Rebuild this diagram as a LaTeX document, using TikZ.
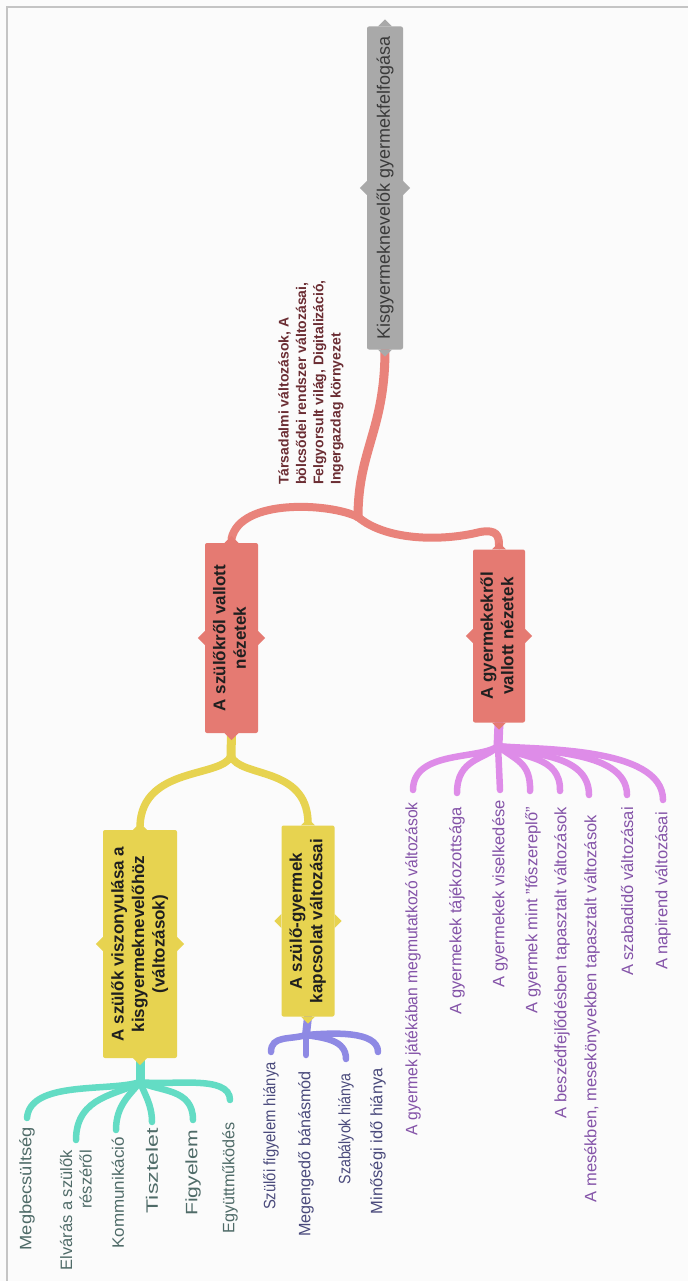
\documentclass[tikz,border=0pt]{standalone}
\usepackage{fontspec}
\usepackage{graphicx}
\setmainfont{Liberation Sans}
\usetikzlibrary{calc,backgrounds}
\definecolor{bgc}{HTML}{FBFBFB}
\definecolor{framec}{HTML}{C4C4C4}
\definecolor{rootc}{HTML}{A9A9A9}
\definecolor{roottext}{HTML}{3A3A3A}
\definecolor{redc}{HTML}{E57A72}
\definecolor{redl}{HTML}{E9837B}
\definecolor{yelc}{HTML}{E7D350}
\definecolor{cyac}{HTML}{63DCC4}
\definecolor{lavc}{HTML}{8E89E4}
\definecolor{purc}{HTML}{DE8CE8}
\definecolor{labc}{HTML}{6B2D33}
\definecolor{purtext}{HTML}{8453A8}
\definecolor{cyatext}{HTML}{4F6B68}
\definecolor{lavtext}{HTML}{4A4A7C}
\newcommand\sx[2]{\scalebox{#1}[1]{#2}}
\newcommand\mynotches[2]{%
  \fill[#2] ([xshift=-7pt]#1.north) -- ([yshift=7pt]#1.north) -- ([xshift=7pt]#1.north) -- cycle;
  \fill[#2] ([xshift=-7pt]#1.south) -- ([yshift=-7pt]#1.south) -- ([xshift=7pt]#1.south) -- cycle;
  \fill[#2] ([yshift=-7pt]#1.west) -- ([xshift=-7pt]#1.west) -- ([yshift=7pt]#1.west) -- cycle;
  \fill[#2] ([yshift=-7pt]#1.east) -- ([xshift=7pt]#1.east) -- ([yshift=7pt]#1.east) -- cycle;}
\begin{document}
\begin{tikzpicture}[x=1pt,y=-1pt,
  box/.style={rectangle, rounded corners=2pt, inner sep=0pt, draw=none},
  boxfont/.style={font=\fontsize{17}{20.5}\selectfont\bfseries, text=black!88},
  leaf/.style={rotate=90, anchor=east, inner sep=0pt, font=\fontsize{16.5}{19.5}\selectfont},
  conn/.style={line width=6.5pt, line cap=round},
  redline/.style={conn, draw=redl, line width=9pt},
  yline/.style={conn, draw=yelc, line width=7.5pt},
  cline/.style={conn, draw=cyac},
  pline/.style={conn, draw=purc},
  vline/.style={conn, draw=lavc}]
\useasboundingbox (0,0) rectangle (688,1281);
% nodes
\node[box, fill=rootc, minimum width=36pt, minimum height=323pt, text=roottext, font=\fontsize{18}{21}\selectfont] (root) at (385,188) {\rotatebox{90}{Kisgyermeknevelők gyermekfelfogása}};
\node[box, boxfont, fill=redc, minimum width=53pt, minimum height=190pt] (szul) at (231.5,638) {\rotatebox{90}{\begin{tabular}{@{}c@{}}A szülőkről vallott\\nézetek\end{tabular}}};
\node[box, boxfont, fill=redc, minimum width=52pt, minimum height=173pt] (gyer) at (499,636) {\rotatebox{90}{\begin{tabular}{@{}c@{}}A gyermekekről\\vallott nézetek\end{tabular}}};
\node[box, boxfont, fill=yelc, minimum width=74pt, minimum height=228pt] (visz) at (140,944) {\rotatebox{90}{\begin{tabular}{@{}c@{}}A szülők viszonyulása a\\kisgyermeknevelőhöz\\(változások)\end{tabular}}};
\node[box, boxfont, fill=yelc, minimum width=53pt, minimum height=191pt] (kapcs) at (308,921) {\rotatebox{90}{\begin{tabular}{@{}c@{}}A szülő-gyermek\\kapcsolat változásai\end{tabular}}};
% label
\node[rotate=90, anchor=west, inner sep=0pt, align=left, text=labc, font=\fontsize{14}{17.3}\selectfont\bfseries] (lab) at (311,485) {Társadalmi változások, A\\bölcsődei rendszer változásai,\\Felgyorsult világ, Digitalizáció,\\Ingergazdag környezet};
% cyan leaves
\node[leaf, text=cyatext] (c1) at (27,1127) {\sx{1.11}{Megbecsültség}};
\node[leaf, text=cyatext, align=right] (c2) at (76,1150) {Elvárás a szülők\\részéről};
\node[leaf, text=cyatext] (c3) at (118,1137) {\sx{1.03}{Kommunikáció}};
\node[leaf, text=cyatext] (c4) at (152,1128) {\sx{1.4}{Tisztelet}};
\node[leaf, text=cyatext] (c5) at (193,1130) {\sx{1.28}{Figyelem}};
\node[leaf, text=cyatext] (c6) at (230,1122) {\sx{0.98}{Együttműködés}};
% lavender leaves
\node[leaf, text=lavtext] (v1) at (271,1062) {\sx{0.9}{Szülői figyelem hiánya}};
\node[leaf, text=lavtext] (v2) at (306,1071) {\sx{0.98}{Megengedő bánásmód}};
\node[leaf, text=lavtext] (v3) at (346,1073) {\sx{0.86}{Szabályok hiánya}};
\node[leaf, text=lavtext] (v4) at (378,1068) {Minőségi idő hiánya};
% purple leaves
\node[leaf, text=purtext] (p1) at (413,802) {\sx{0.95}{A gyermek játékában megmutatkozó változások}};
\node[leaf, text=purtext] (p2) at (457,807) {A gyermekek tájékozottsága};
\node[leaf, text=purtext] (p3) at (500,800) {A gyermekek viselkedése};
\node[leaf, text=purtext] (p4) at (533,807) {A gyermek mint "főszereplő"};
\node[leaf, text=purtext] (p5) at (562,807) {A beszédfejlődésben tapasztalt változások};
\node[leaf, text=purtext] (p6) at (592,815) {A mesékben, mesekönyvekben tapasztalt változások};
\node[leaf, text=purtext] (p7) at (627,807) {A szabadidő változásai};
\node[leaf, text=purtext] (p8) at (663,812) {A napirend változásai};
% notches
\mynotches{root}{rootc}
\mynotches{szul}{redc}
\mynotches{gyer}{redc}
\mynotches{visz}{yelc}
\mynotches{kapcs}{yelc}
\begin{scope}[on background layer]
\fill[bgc] (0,0) rectangle (688,1281);
\draw[framec, line width=1.3pt] (7,1281) -- (7,7) -- (688,7);
% red
\coordinate (rj) at (358,517);
\draw[redline] (root.south) .. controls (385,430) and (358,450) .. (rj);
\draw[redline, line width=8pt] (rj) .. controls (330,503) and (240,498) .. ([yshift=4pt]szul.north);
\draw[redline, line width=8pt] (rj) .. controls (385,540) and (440,542) .. (480,532) .. controls (497,529) and (499,536) .. ([yshift=4pt]gyer.north);
% yellow
\coordinate (yj) at (231,756);
\draw[yline, line width=9pt] (szul.south) -- (yj);
\draw[yline] (yj) .. controls (222,778) and (142,766) .. ([yshift=4pt]visz.north);
\draw[yline] (yj) .. controls (240,778) and (306,766) .. ([yshift=4pt]kapcs.north);
% cyan
\coordinate (cj) at (140,1082);
\draw[cline, line width=9pt] (visz.south) -- (cj);
\draw[cline] (cj) .. controls (110,1092) and (30,1080) .. ([yshift=9pt]c1.east);
\draw[cline] (cj) .. controls (120,1095) and (76,1095) .. ([yshift=10pt]c2.east);
\draw[cline] (cj) .. controls (130,1095) and (116,1105) .. ([yshift=7pt,xshift=-2pt]c3.east);
\draw[cline] (cj) .. controls (145,1095) and (152,1105) .. ([yshift=6pt]c4.east);
\draw[cline] (cj) .. controls (160,1092) and (193,1088) .. ([yshift=10pt]c5.east);
\draw[cline] (cj) .. controls (170,1086) and (230,1074) .. ([yshift=22pt]c6.east);
% lavender
\coordinate (vj) at (306,1035);
\draw[vline, line width=8pt] (kapcs.south) -- (vj);
\draw[vline] (vj) .. controls (290,1040) and (271,1035) .. ([yshift=10pt]v1.east);
\draw[vline] (vj) -- ([yshift=16pt]v2.east);
\draw[vline] (vj) .. controls (325,1038) and (346,1040) .. ([yshift=14pt]v3.east);
\draw[vline] (vj) .. controls (330,1033) and (378,1030) .. ([yshift=16pt]v4.east);
% purple
\coordinate (pj) at (498,746);
\draw[pline, line width=9pt] (gyer.south) -- (pj);
\draw[pline] (pj) .. controls (480,760) and (413,750) .. ([yshift=12pt]p1.east);
\draw[pline] (pj) .. controls (485,760) and (457,758) .. ([yshift=14pt]p2.east);
\draw[pline] (pj) -- ([yshift=10pt]p3.east);
\draw[pline] (pj) .. controls (515,760) and (531,762) .. ([yshift=16pt,xshift=-3pt]p4.east);
\draw[pline] (pj) .. controls (520,758) and (561,755) .. ([yshift=16pt,xshift=-2pt]p5.east);
\draw[pline] (pj) .. controls (525,755) and (589,752) .. ([yshift=20pt,xshift=-3pt]p6.east);
\draw[pline] (pj) .. controls (530,752) and (627,748) .. ([yshift=12pt]p7.east);
\draw[pline] (pj) .. controls (530,750) and (663,745) .. ([yshift=12pt]p8.east);
\end{scope}
\end{tikzpicture}
\end{document}
